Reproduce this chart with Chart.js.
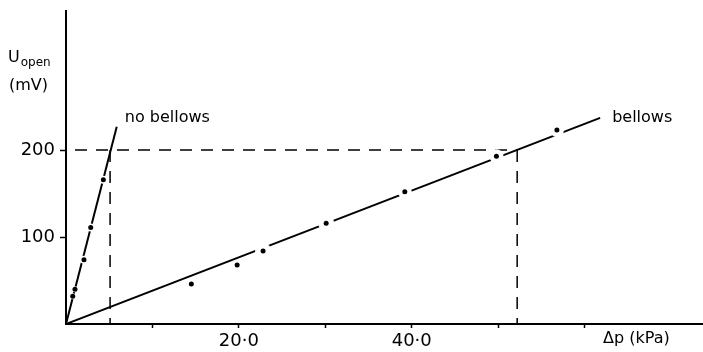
<!DOCTYPE html>
<html>
<head>
<meta charset="utf-8">
<script src="https://cdn.jsdelivr.net/npm/chart.js@4.4.1/dist/chart.umd.min.js"></script>
<style>
  html, body { margin: 0; padding: 0; background: #fff; }
  #wrap { width: 703px; height: 352px; }
</style>
</head>
<body>
<div id="wrap"><canvas id="myChart"></canvas></div>
<script>
// measured points (kPa, mV)
var noBellowsP = [0.78, 1.04, 2.08, 2.86, 4.32];
var noBellowsU = [32, 40, 74, 111, 166];
var bellowsP = [14.5, 19.8, 22.8, 30.1, 39.2, 49.8, 56.8];
var bellowsU = [46, 68, 84, 116, 152, 193, 223];

// fitted lines
var noBellowsFitP = [0, 5.87];
var noBellowsFitU = [0, 227];
var bellowsFitP = [0, 61.8];
var bellowsFitU = [0, 237];

// 200 mV reference
var refU = 200;
var refP = [5.1, 52.2];
var refStartP = 0;

var xTicks = [10, 20, 30, 40, 50, 60];
var xLabelled = [20, 40];
var yTicks = [100, 200];
var seriesNames = ["no bellows", "bellows"];

var FONT = "'DejaVu Sans', sans-serif";

function pts(xs, ys) {
  return xs.map(function (x, i) { return { x: x, y: ys[i] }; });
}

var textPlugin = {
  id: "texts",
  afterDraw: function (chart) {
    var c = chart.ctx;
    var xs = chart.scales.x, ys = chart.scales.y;
    var area = chart.chartArea;
    c.save();
    c.fillStyle = "#000";
    c.textAlign = "left";
    c.textBaseline = "alphabetic";
    // y axis title
    c.font = "16px " + FONT;
    c.fillText("U", 8, 62);
    var w = c.measureText("U").width;
    c.font = "12px " + FONT;
    c.fillText("open", 8 + w + 1, 66);
    c.font = "16px " + FONT;
    c.fillText("(mV)", 9, 90);
    // x axis title
    c.fillText("\u0394p (kPa)", area.right - 100, area.bottom + 19);
    // series labels
    var n = noBellowsFitP.length - 1;
    c.fillText(seriesNames[0],
      xs.getPixelForValue(noBellowsFitP[n]) + 8,
      ys.getPixelForValue(noBellowsFitU[n]) - 5);
    var m = bellowsFitP.length - 1;
    c.fillText(seriesNames[1],
      xs.getPixelForValue(bellowsFitP[m]) + 12,
      ys.getPixelForValue(bellowsFitU[m]) + 4);
    c.restore();
  }
};

var ctx = document.getElementById("myChart");
var myChart = new Chart(ctx, {
  type: "scatter",
  data: {
    datasets: [
      // dots
      {
        data: pts(noBellowsP, noBellowsU),
        pointRadius: 2.5,
        pointBackgroundColor: "#000",
        pointBorderWidth: 0,
        order: 1,
      },
      {
        data: pts(bellowsP, bellowsU),
        pointRadius: 2.5,
        pointBackgroundColor: "#000",
        pointBorderWidth: 0,
        order: 1,
      },
      // white gaps in the lines around the dots
      {
        data: pts(noBellowsP, noBellowsU),
        pointRadius: [3, 3, 4, 4, 4],
        pointBackgroundColor: "#fff",
        pointBorderWidth: 0,
        order: 2,
      },
      {
        data: pts(bellowsP, bellowsU),
        pointRadius: [0, 0, 8, 8, 7, 7, 7],
        pointBackgroundColor: "#fff",
        pointBorderWidth: 0,
        order: 2,
      },
      // fitted lines
      {
        data: pts(noBellowsFitP, noBellowsFitU),
        showLine: true,
        borderColor: "#000",
        borderWidth: 2,
        pointRadius: 0,
        order: 3,
      },
      {
        data: pts(bellowsFitP, bellowsFitU),
        showLine: true,
        borderColor: "#000",
        borderWidth: 2,
        pointRadius: 0,
        order: 3,
      },
      // dashed reference lines
      {
        data: [{ x: refStartP, y: refU }, { x: refP[1], y: refU }],
        showLine: true,
        borderColor: "#000",
        borderWidth: 1.5,
        borderDash: [12, 9],
        borderDashOffset: 12,
        pointRadius: 0,
        order: 5,
      },
      {
        data: [{ x: refP[0], y: refU }, { x: refP[0], y: 0 }],
        showLine: true,
        borderColor: "#000",
        borderWidth: 1.5,
        borderDash: [12, 9],
        pointRadius: 0,
        order: 5,
      },
      {
        data: [{ x: refP[1], y: refU }, { x: refP[1], y: 0 }],
        showLine: true,
        borderColor: "#000",
        borderWidth: 1.5,
        borderDash: [12, 9],
        pointRadius: 0,
        order: 5,
      },
    ],
  },
  options: {
    responsive: true,
    maintainAspectRatio: false,
    animation: false,
    layout: { autoPadding: false, padding: { top: 11, left: 0, right: 0, bottom: 0 } },
    plugins: {
      legend: { display: false },
      tooltip: { enabled: false },
    },
    scales: {
      x: {
        type: "linear",
        min: 0,
        max: 73.7,
        afterBuildTicks: function (s) {
          s.ticks = xTicks.map(function (v) { return { value: v }; });
        },
        afterFit: function (s) {
          s.height = 28;
          s.paddingLeft = 0;
          s.paddingRight = 0;
        },
        ticks: {
          autoSkip: false,
          maxRotation: 0,
          padding: 3,
          color: "#000",
          font: { family: FONT, size: 18 },
          callback: function (v) {
            return xLabelled.indexOf(v) >= 0 ? v.toFixed(1).replace(".", "\u00b7") : "";
          },
        },
        grid: {
          drawOnChartArea: false,
          drawTicks: true,
          tickLength: 4,
          tickColor: "#000",
          tickWidth: 1.5,
        },
        border: { display: true, color: "#000", width: 2 },
      },
      y: {
        type: "linear",
        min: 0,
        max: 360,
        afterBuildTicks: function (s) {
          s.ticks = yTicks.map(function (v) { return { value: v }; });
        },
        afterFit: function (s) {
          s.width = 66;
          s.paddingTop = 0;
          s.paddingBottom = 0;
        },
        ticks: {
          padding: 5,
          color: "#000",
          font: { family: FONT, size: 18 },
        },
        grid: {
          drawOnChartArea: false,
          drawTicks: true,
          tickLength: 6,
          tickColor: "#000",
          tickWidth: 1.5,
        },
        border: { display: true, color: "#000", width: 2 },
      },
    },
  },
  plugins: [textPlugin],
});
</script>
</body>
</html>
